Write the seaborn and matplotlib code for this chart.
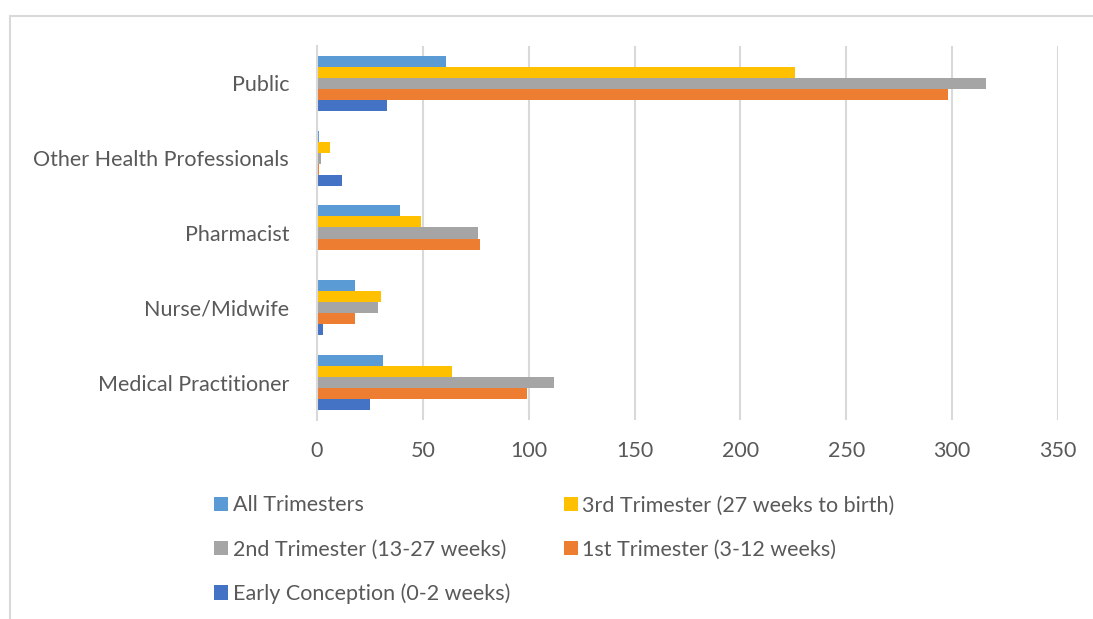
import matplotlib
matplotlib.use("Agg")
import matplotlib.pyplot as plt
import seaborn as sns
import pandas as pd
from matplotlib.patches import Rectangle, Patch

categories = ["Public", "Other Health Professionals", "Pharmacist", "Nurse/Midwife", "Medical Practitioner"]
series_names = ["All Trimesters", "3rd Trimester (27 weeks to birth)", "2nd Trimester (13-27 weeks)",
                "1st Trimester (3-12 weeks)", "Early Conception (0-2 weeks)"]
all_trimesters = [61, 1, 39, 18, 31]
third_trimester = [226, 6, 49, 30, 64]
second_trimester = [316, 2, 76, 29, 112]
first_trimester = [298, 1, 77, 18, 99]
early_conception = [33, 12, 0, 3, 25]
colors = ["#5B9BD5", "#FFC000", "#A5A5A5", "#ED7D31", "#4472C4"]
xticks = [0, 50, 100, 150, 200, 250, 300, 350]

series_values = [all_trimesters, third_trimester, second_trimester, first_trimester, early_conception]
rows = []
for name, vals in zip(series_names, series_values):
    for c, v in zip(categories, vals):
        rows.append({"category": c, "series": name, "value": v})
df = pd.DataFrame(rows)

sns.set_theme(style="white")
plt.rcParams["font.family"] = ["Lato", "DejaVu Sans"]
text_color = "#595959"
fs = 15.5

fig = plt.figure(figsize=(10.93, 6.19), dpi=100)
ax = fig.add_axes([317/1093, 1-420/619, (1058-317)/1093, (420-46)/619])

sns.barplot(data=df, y="category", x="value", hue="series", order=categories,
            hue_order=series_names, palette=colors, orient="h", width=0.74,
            linewidth=0, saturation=1, ax=ax, legend=False, errorbar=None)

ax.set_xlim(0, 350)
ax.set_xticks(xticks)
ax.set_xticklabels([str(t) for t in xticks])
ax.grid(axis="x", color="#D9D9D9", linewidth=1.5)
ax.set_axisbelow(True)
for s in ["top", "right", "bottom"]:
    ax.spines[s].set_visible(False)
ax.spines["left"].set_color("#D9D9D9")
ax.spines["left"].set_linewidth(1.5)
ax.set_xlabel("")
ax.set_ylabel("")
ax.tick_params(axis="both", length=0, colors=text_color, labelsize=fs)
ax.tick_params(axis="y", pad=20)
ax.tick_params(axis="x", pad=15)

# row-major order for a 2-column legend
order = [0, 2, 4, 1, 3]
handles = [Patch(facecolor=colors[i], edgecolor="none") for i in order]
labels = [series_names[i] for i in order]
fig.legend(handles, labels, loc="upper left", bbox_to_anchor=(195/1093, 1-476/619),
           ncol=2, frameon=False, fontsize=fs, labelcolor=text_color,
           handlelength=0.65, handleheight=0.65, handletextpad=0.2,
           columnspacing=2.5, labelspacing=1.12)

fig.patches.append(Rectangle((10/1093, -0.1), 1.2, 1.1 - 16/619, transform=fig.transFigure,
                             fill=False, edgecolor="#D9D9D9", linewidth=1.5, zorder=0))

fig.savefig("out.png", dpi=100)
